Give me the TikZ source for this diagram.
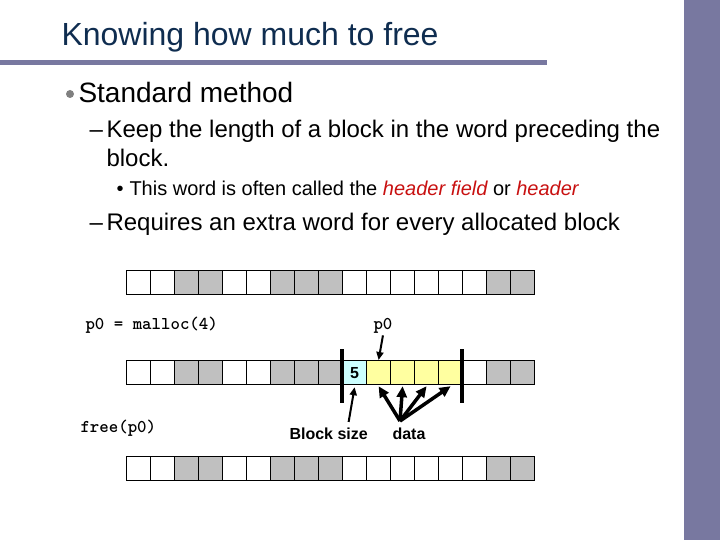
\documentclass[tikz,border=0pt]{standalone}
\usepackage{fontspec}
\setmainfont{Liberation Sans}
\usepackage{tikz}
\tikzset{every path/.append style={line width=1pt}}
\usetikzlibrary{positioning,arrows.meta}
\definecolor{slidebar}{RGB}{120,120,160}
\definecolor{titleblue}{RGB}{15,45,80}
\definecolor{hdrred}{RGB}{200,16,16}
\definecolor{cellgray}{RGB}{192,192,192}
\definecolor{cellcyan}{RGB}{204,255,255}
\definecolor{cellyellow}{RGB}{255,255,160}
\tikzset{
 word/.style={draw,line width=1.2pt,minimum size=24pt,inner sep=0pt,anchor=north west},
 txt/.style={anchor=base west,inner sep=0pt},
 code/.style={txt,font=\ttfamily\bfseries\fontsize{18}{18}\selectfont},
 bar/.style={line width=4pt},
 ptr/.style={line width=2pt,-{Triangle[length=8pt,width=7pt]}},
 fatptr/.style={line width=3.5pt,-{Triangle[length=11pt,width=10pt]}}
}

\begin{document}
\begin{tikzpicture}[x=1pt,y=-1pt]
 \useasboundingbox (0,0) rectangle (720,540);
 \fill[slidebar] (684,0) rectangle (720,540);
 \fill[slidebar] (0,60) rectangle (547,65);
 \node[txt,text=titleblue,font=\fontsize{32}{32}\selectfont] (title) at (61,46) {Knowing how much to free};
 \fill[gray] (70,94) circle [radius=4];
 \node[txt,font=\fontsize{28}{28}\selectfont] (std) at (78,103) {Standard method};
 \node[txt,font=\fontsize{24}{24}\selectfont] (dash1) at (89,138) {--};
 \node[txt,font=\fontsize{24}{24}\selectfont] (keep) at (106,138) {Keep the length of a block in the word preceding the};
 \node[txt,font=\fontsize{24}{24}\selectfont] (keep2) at (106,167) {block.};
 \node[txt,font=\fontsize{20}{20}\selectfont] (dot) at (116,196) {\textbullet};
 \node[txt,font=\fontsize{20}{20}\selectfont] (hdr) at (129,196) {This word is often called the \textcolor{hdrred}{\itshape header field} or \textcolor{hdrred}{\itshape header}};
 \node[txt,font=\fontsize{24}{24}\selectfont] (dash2) at (89,230) {--};
 \node[txt,font=\fontsize{24}{24}\selectfont] (req) at (106,230) {Requires an extra word for every allocated block};

 \foreach \r/\y in {a/270,c/456}
  \foreach \i/\f in {0/white,1/white,2/cellgray,3/cellgray,4/white,5/white,6/cellgray,7/cellgray,8/cellgray,9/white,10/white,11/white,12/white,13/white,14/white,15/cellgray,16/cellgray}
   \node[word,fill=\f] (\r\i) at (126+24*\i,\y) {};
 \foreach \i/\f in {0/white,1/white,2/cellgray,3/cellgray,4/white,5/white,6/cellgray,7/cellgray,8/cellgray,9/cellcyan,10/cellyellow,11/cellyellow,12/cellyellow,13/cellyellow,14/white,15/cellgray,16/cellgray}
  \node[word,fill=\f] (b\i) at (126+24*\i,360) {};
 \node[font=\bfseries\fontsize{16}{16}\selectfont] (five) at (b9.center) {5};
 \draw[bar] ([yshift=11pt]b9.north west) -- ([yshift=-18pt]b9.south west);
 \draw[bar] ([yshift=11pt]b14.north west) -- ([yshift=-18pt]b14.south west);

 \node[code] (malloc) at (85,329) {p0 = malloc(4)};
 \node[code] (p0) at (373,329) {p0};
 \node[code] (free) at (80,432) {free(p0)};
 \node[txt,font=\bfseries\fontsize{16}{16}\selectfont] (bsize) at (289,439) {Block size};
 \node[txt,font=\bfseries\fontsize{16}{16}\selectfont] (data) at (392,439) {data};
 \coordinate (dsrc) at (400,421);

 \draw[ptr] ([yshift=-2pt]p0.south) -- (b10.north);
 \draw[ptr] ([xshift=20pt,yshift=5pt]bsize.north) -- ([yshift=-2pt]b9.south);
 \foreach \i in {10,...,13}
  \draw[fatptr] (dsrc) -- ([yshift=-1pt]b\i.south);
\end{tikzpicture}
\end{document}
